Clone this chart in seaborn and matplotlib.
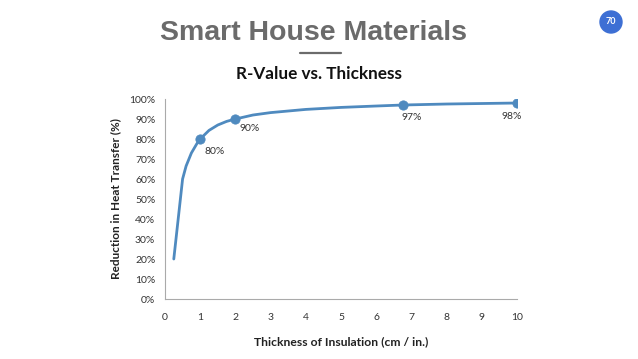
import numpy as np
import pandas as pd
import matplotlib
matplotlib.use("Agg")
import matplotlib.pyplot as plt
from matplotlib.patches import Circle
from matplotlib.transforms import IdentityTransform
import seaborn as sns

# Curve: thickness (cm / in.) vs reduction in heat transfer (%)
thickness = [0.25, 0.5, 0.6, 0.75, 0.9, 1, 1.25, 1.5, 1.75, 2, 2.5, 3, 4, 5, 6, 6.75, 8, 10]
reduction = [20, 60, 66.5, 73, 77.5, 80, 84.3, 87, 88.8, 90, 92, 93.2, 94.8, 95.8, 96.5, 97, 97.5, 98]

# Labelled points
mark_x = [1, 2, 6.75, 10]
mark_y = [80, 90, 97, 98]
mark_labels = ["80%", "90%", "97%", "98%"]

x_ticks = list(range(0, 11))
y_ticks = list(range(0, 101, 10))

sns.set_style("white")
plt.rcParams['font.family'] = ['Lato', 'DejaVu Sans']

curve = pd.DataFrame({"thickness": thickness, "reduction": reduction})
marks = pd.DataFrame({"thickness": mark_x, "reduction": mark_y})

fig = plt.figure(figsize=(6.38, 3.59), dpi=100)
ax = fig.add_axes([0.2586, 0.1671, 0.5517, 0.5571])

line_color = "#4f8abf"
sns.lineplot(data=curve, x="thickness", y="reduction", ax=ax, color=line_color,
             linewidth=2.0, zorder=2)
sns.scatterplot(data=marks, x="thickness", y="reduction", ax=ax, color=line_color,
                s=45, edgecolor=line_color, zorder=3)

# point labels
offsets = [(0.12, -6), (0.12, -4.5), (0.25, -6), (-0.15, -6.5)]
for (xv, yv, lab), (dx, dy) in zip(zip(mark_x, mark_y, mark_labels), offsets):
    ha = "left" if xv < 5 else "center"
    ax.text(xv + dx, yv + dy, lab, ha=ha, va="center", fontsize=7.5, color="#333333")

ax.set_xlim(0, 10)
ax.set_ylim(0, 100)
ax.set_xticks(x_ticks)
ax.set_yticks(y_ticks)
ax.set_yticklabels([f"{v}%" for v in y_ticks])
ax.tick_params(axis="both", labelsize=7.5, labelcolor="#333333", color="#999999",
               length=3, width=0.6, direction="out")
ax.tick_params(axis="x", pad=7)
ax.tick_params(axis="y", pad=4)
for side in ["top", "right"]:
    ax.spines[side].set_visible(False)
for side in ["left", "bottom"]:
    ax.spines[side].set_color("#aaaaaa")
    ax.spines[side].set_linewidth(0.8)

ax.set_xlabel("Thickness of Insulation (cm / in.)", fontsize=8.7, fontweight="bold",
              color="#222222", labelpad=10)
ax.set_ylabel("Reduction in Heat Transfer (%)", fontsize=8.5, fontweight="bold",
              color="#222222", labelpad=6)

# slide decorations
fig.text(0.492, 0.908, "Smart House Materials", ha="center", va="center", fontsize=20.5,
         fontweight="bold", color="#6b6b6b", family=["Liberation Sans", "DejaVu Sans"])
fig.add_artist(plt.Line2D([300 / 638, 341 / 638], [1 - 53 / 359, 1 - 53 / 359],
                          color="#6b6b6b", linewidth=1.6))
fig.text(0.50, 0.793, "R-Value vs. Thickness", ha="center", va="center", fontsize=12.3,
         fontweight="bold", color="#111111")
badge = Circle((611, 359 - 22), 11, transform=IdentityTransform(), color="#3d6fd4")
fig.add_artist(badge)
fig.text(611 / 638, 1 - 22 / 359, "70", ha="center", va="center", fontsize=6.5,
         fontweight="bold", color="white")

fig.savefig("out.png", dpi=100)
